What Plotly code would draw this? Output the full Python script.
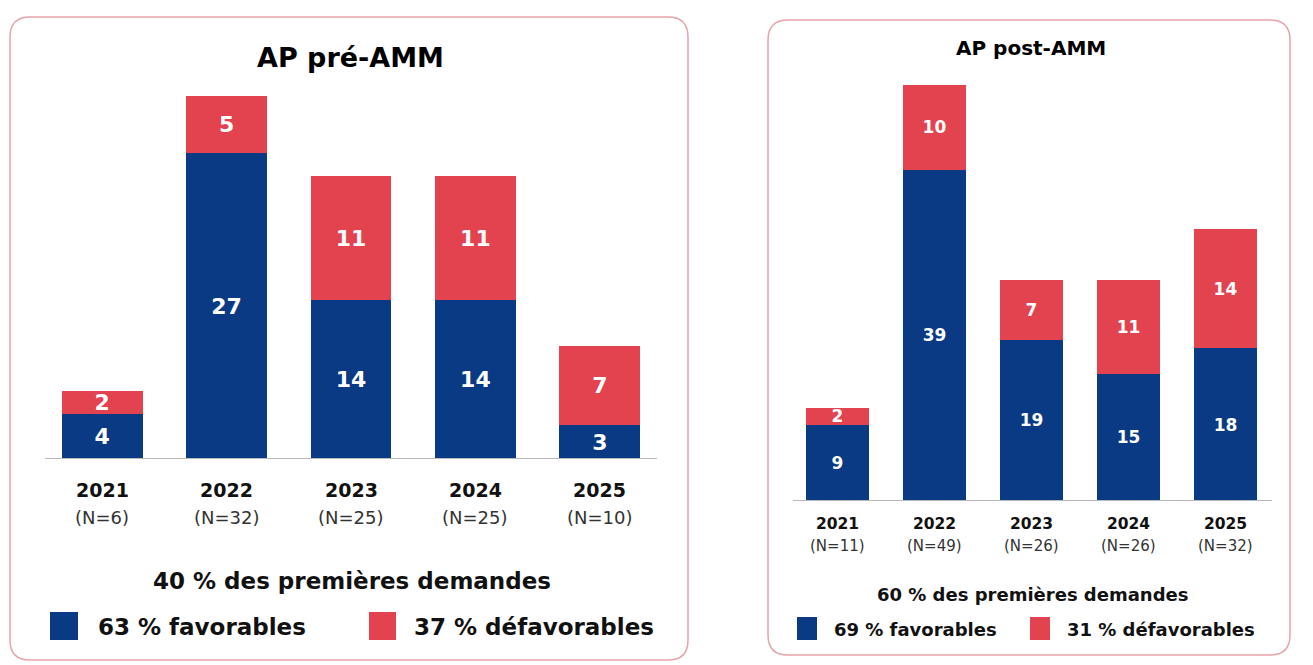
import plotly.graph_objects as go

W, H = 1313, 665

years = ["2021", "2022", "2023", "2024", "2025"]

pre_fav = [4, 27, 14, 14, 3]
pre_defav = [2, 5, 11, 11, 7]
pre_n = ["(N=6)", "(N=32)", "(N=25)", "(N=25)", "(N=10)"]

post_fav = [9, 39, 19, 15, 18]
post_defav = [2, 10, 7, 11, 14]
post_n = ["(N=11)", "(N=49)", "(N=26)", "(N=26)", "(N=32)"]

pre_title = "AP pré-AMM"
post_title = "AP post-AMM"
pre_share = "40 % des premières demandes"
post_share = "60 % des premières demandes"
pre_legend = ["63 % favorables", "37 % défavorables"]
post_legend = ["69 % favorables", "31 % défavorables"]

BLUE = "#0a3a84"
RED = "#e3434f"
BORDER = "#e7a3ab"
AXIS = "#b9b9b9"
FONT = "DejaVu Sans"


def px(x):
    return x / W


def py(y):
    return 1 - y / H


fig = go.Figure()


def add_bars(vals, color, xa, ya, size):
    fig.add_trace(go.Bar(
        x=years, y=vals, marker_color=color, marker_line_width=0, width=0.65,
        text=vals, textposition="inside", insidetextanchor="middle",
        constraintext="none", textangle=0,
        textfont=dict(color="white", size=size, family=FONT, weight="bold"),
        xaxis=xa, yaxis=ya, showlegend=False, hoverinfo="skip"))


add_bars(pre_fav, BLUE, "x", "y", 22)
add_bars(pre_defav, RED, "x", "y", 22)
add_bars(post_fav, BLUE, "x2", "y2", 17)
add_bars(post_defav, RED, "x2", "y2", 17)

axis_common = dict(showgrid=False, zeroline=False, showticklabels=False, ticks="",
                   fixedrange=True, showline=False)

fig.update_layout(
    width=W, height=H,
    margin=dict(l=0, r=0, t=0, b=0),
    paper_bgcolor="white", plot_bgcolor="rgba(0,0,0,0)",
    barmode="stack",
    xaxis=dict(domain=[px(40), px(662)], range=[-0.5, 4.5], type="category",
               anchor="y", **axis_common),
    yaxis=dict(domain=[py(459), py(90)], range=[0, 369 / 11.33], anchor="x", **axis_common),
    xaxis2=dict(domain=[px(789), px(1274)], range=[-0.5, 4.5], type="category",
                anchor="y2", **axis_common),
    yaxis2=dict(domain=[py(501), py(80)], range=[0, 421 / 8.5], anchor="x2", **axis_common),
)

shapes = []

# panel borders with rounded corners
for (x0, y0, x1, y1) in [(10, 17, 688, 660), (768, 20, 1290, 655)]:
    r = 20
    rx, ry = r / W, r / H
    X0, X1 = px(x0), px(x1)
    Y0, Y1 = py(y0), py(y1)
    path = (f"M {X0+rx},{Y0} L {X1-rx},{Y0} Q {X1},{Y0} {X1},{Y0-ry} "
            f"L {X1},{Y1+ry} Q {X1},{Y1} {X1-rx},{Y1} L {X0+rx},{Y1} "
            f"Q {X0},{Y1} {X0},{Y1+ry} L {X0},{Y0-ry} Q {X0},{Y0} {X0+rx},{Y0} Z")
    shapes.append(dict(type="path", path=path, xref="paper", yref="paper",
                       line=dict(color=BORDER, width=1.5), layer="below"))

# axis baselines
shapes.append(dict(type="line", xref="paper", yref="y", x0=px(45), x1=px(657), y0=0, y1=0,
                   line=dict(color=AXIS, width=2)))
shapes.append(dict(type="line", xref="paper", yref="y2", x0=px(793), x1=px(1272), y0=0, y1=0,
                   line=dict(color=AXIS, width=2)))

# legend squares
for (x0, x1, y0, y1, c) in [(50, 78, 612, 640, BLUE), (369, 396, 612, 640, RED),
                            (797, 817, 617, 640, BLUE), (1030, 1050, 617, 640, RED)]:
    shapes.append(dict(type="rect", xref="paper", yref="paper", x0=px(x0), x1=px(x1),
                       y0=py(y1), y1=py(y0), fillcolor=c, line_width=0))

ann = []


def text(t, x, y, size, bold=True, color="#111", anchor="center", xref="paper"):
    ann.append(dict(text=t, x=x, y=py(y), xref=xref, yref="paper", xanchor=anchor,
                    yanchor="middle", showarrow=False,
                    font=dict(size=size, color=color, family=FONT,
                              weight="bold" if bold else "normal")))


# titles
text(pre_title, px(350), 57, 27, color="black")
text(post_title, px(1031), 48, 20, color="black")

# category labels
for i, yr in enumerate(years):
    text(yr, i, 490, 19, xref="x")
    text(pre_n[i], i, 517, 18, bold=False, color="#333", xref="x")
    text(yr, i, 524, 15.5, xref="x2")
    text(post_n[i], i, 546, 15, bold=False, color="#333", xref="x2")

# share texts
text(pre_share, px(352), 581, 23)
text(post_share, px(1032), 594, 18)

# legend texts
text(pre_legend[0], px(96), 627, 23, anchor="left")
text(pre_legend[1], px(412), 627, 23, anchor="left")
text(post_legend[0], px(832), 629, 18, anchor="left")
text(post_legend[1], px(1065), 629, 18, anchor="left")

fig.update_layout(shapes=shapes, annotations=ann)

fig.write_html("out.html",
               config={"displayModeBar": False},
               post_script="document.body.style.margin='0';document.body.style.overflow='hidden';")
